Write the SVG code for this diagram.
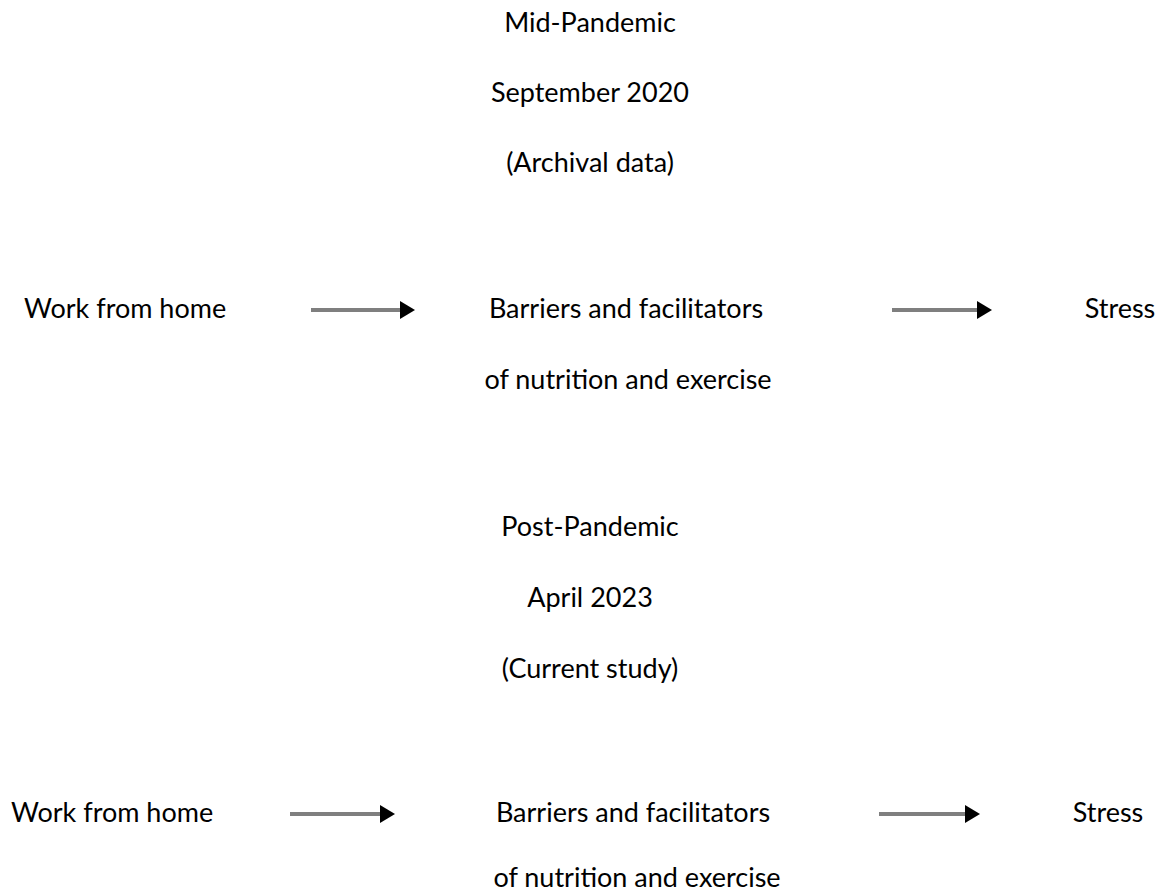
<svg xmlns="http://www.w3.org/2000/svg" width="1164" height="896" viewBox="0 0 1164 896">
<defs>
<style>
text{font-family:"Lato","Liberation Sans",sans-serif;font-size:27px;fill:#000}
.c{text-anchor:middle}
.ln{stroke:#7f7f7f;stroke-width:4;fill:none}
.hd{fill:#000}
</style>
</defs>
<rect width="1164" height="896" fill="#fff"/>
<g id="mid-header">
<text class="c" x="590" y="32">Mid-Pandemic</text>
<text class="c" x="590" y="102">September 2020</text>
<text class="c" x="590" y="172">(Archival data)</text>
</g>
<g id="wfh1"><text x="24" y="318">Work from home</text></g>
<g id="bf1">
<text class="c" x="626" y="318">Barriers and facilitators</text>
<text class="c" x="628" y="389">of nutrition and exercise</text>
</g>
<g id="stress1"><text class="c" x="1120" y="318">Stress</text></g>
<g id="post-header">
<text class="c" x="590" y="536">Post-Pandemic</text>
<text class="c" x="590" y="607">April 2023</text>
<text class="c" x="590" y="678">(Current study)</text>
</g>
<g id="wfh2"><text x="11" y="822">Work from home</text></g>
<g id="bf2">
<text class="c" x="633" y="822">Barriers and facilitators</text>
<text class="c" x="637" y="887">of nutrition and exercise</text>
</g>
<g id="stress2"><text class="c" x="1108" y="822">Stress</text></g>
<g id="connectors">
<line class="ln" x1="311" y1="310" x2="401" y2="310"/><polygon class="hd" points="400,301 415,310 400,319"/>
<line class="ln" x1="892" y1="310" x2="978" y2="310"/><polygon class="hd" points="977,301 992,310 977,319"/>
<line class="ln" x1="290" y1="814" x2="381" y2="814"/><polygon class="hd" points="380,805 395,814 380,823"/>
<line class="ln" x1="879" y1="814" x2="966" y2="814"/><polygon class="hd" points="965,805 980,814 965,823"/>
</g>
</svg>
